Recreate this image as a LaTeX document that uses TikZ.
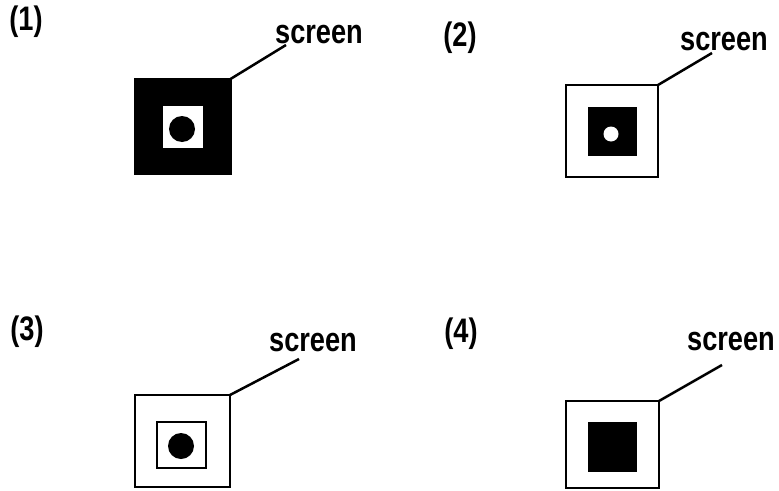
\documentclass[tikz,border=0pt]{standalone}
\usepackage{fontspec}
\setmainfont{Liberation Sans}
\newfontfamily\lblfont[FakeStretch=0.8]{Liberation Sans}
\begin{document}
\begin{tikzpicture}[x=1pt,y=-1pt,
				every node/.style={inner sep=0pt, outer sep=0pt},
				lbl/.style={font=\lblfont\bfseries\fontsize{34}{38}\selectfont},
				frame/.style={draw=black, line width=2.5pt, minimum width=#1, minimum height=#1},
				frame/.default=93pt,
				leader/.style={black, line width=2.5pt}]
				\useasboundingbox (0,0) rectangle (779,490);
				% (1)
				\node [lbl] (num1) at (26,22) {(1)};
				\node [lbl] (scr1) at (319,35) {screen};
				\node [frame=95pt, fill=black] (sq1) at (183,126.5) {};
				\node [fill=white, minimum width=40pt, minimum height=42pt] (in1) at (183,127) {};
				\node [circle, fill=black, minimum size=26pt] (dot1) at (182,129) {};
				\coordinate (end1) at (286,45);
				\draw [leader] (sq1.north east) -- (end1);
				% (2)
				\node [lbl] (num2) at (460,38) {(2)};
				\node [lbl] (scr2) at (724,42) {screen};
				\node [frame=92pt] (sq2) at (612,131) {};
				\node [fill=black, minimum size=49pt] (in2) at (612.5,131.5) {};
				\node [circle, fill=white, minimum size=15pt] (dot2) at (611,134) {};
				\coordinate (end2) at (712,53);
				\draw [leader] (sq2.north east) -- (end2);
				% (3)
				\node [lbl] (num3) at (27,332) {(3)};
				\node [lbl] (scr3) at (313,343) {screen};
				\node [frame, minimum width=95pt, minimum height=92pt] (sq3) at (182.5,441) {};
				\node [draw=black, line width=2.5pt, minimum width=49pt, minimum height=46pt] (in3) at (181.5,445) {};
				\node [circle, fill=black, minimum size=26pt] (dot3) at (181,446) {};
				\coordinate (end3) at (299,359);
				\draw [leader] (sq3.north east) -- (end3);
				% (4)
				\node [lbl] (num4) at (461,334) {(4)};
				\node [lbl] (scr4) at (731,342) {screen};
				\node [frame, minimum height=87pt] (sq4) at (612.5,444.5) {};
				\node [fill=black, minimum width=49pt, minimum height=50pt] (in4) at (612.5,447) {};
				\coordinate (end4) at (722,365);
				\draw [leader] (sq4.north east) -- (end4);
\end{tikzpicture}
\end{document}
